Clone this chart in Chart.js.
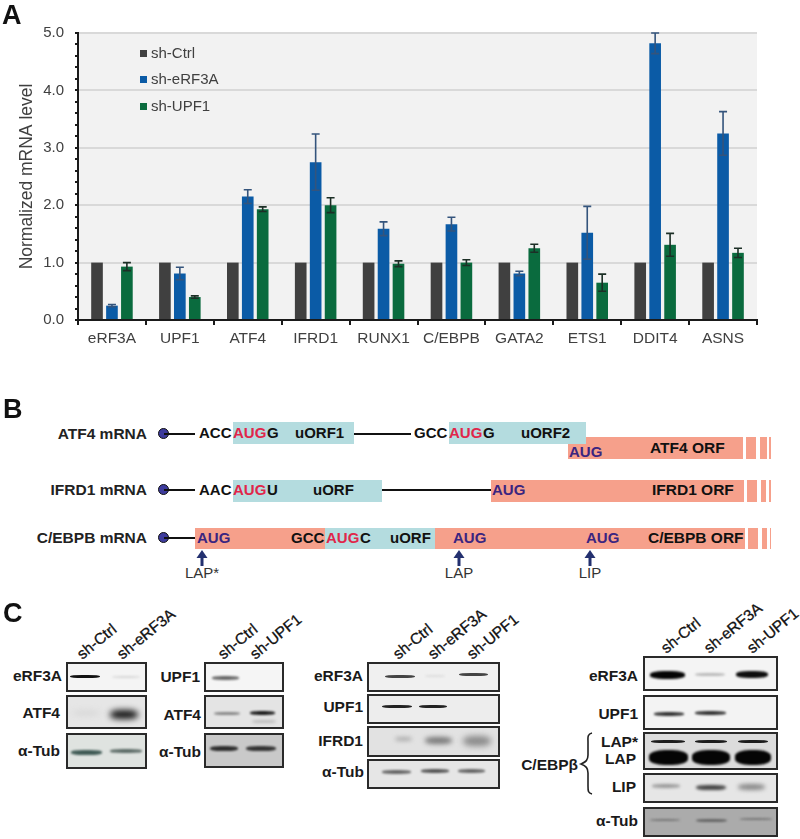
<!DOCTYPE html>
<html>
<head>
<meta charset="utf-8">
<script src="https://cdn.jsdelivr.net/npm/chart.js@4"></script>
<style>
  body { margin: 0; background: #fff; }
  #page { position: relative; width: 800px; height: 839px; overflow: hidden; font-family: "Liberation Sans", Arial, sans-serif; color: #222; }
  #page canvas { position: absolute; left: 0; top: 0; }
  .t { position: absolute; white-space: nowrap; line-height: 18px; height: 18px; }
  .b { font-weight: bold; }
  .box { position: absolute; }
  .blot { position: absolute; box-sizing: border-box; border: 2px solid #2a2a2a; overflow: hidden; }
  .band { position: absolute; border-radius: 40%; }
</style>
</head>
<body>
<div id="page">
  <canvas id="chart" width="800" height="350"></canvas>
</div>
<script>
// Panel A data
const categories = ['eRF3A', 'UPF1', 'ATF4', 'IFRD1', 'RUNX1', 'C/EBPB', 'GATA2', 'ETS1', 'DDIT4', 'ASNS'];
const shCtrl = [1, 1, 1, 1, 1, 1, 1, 1, 1, 1];
const shERF3A = [0.25, 0.81, 2.15, 2.75, 1.59, 1.67, 0.81, 1.52, 4.82, 3.25];
const shUPF1 = [0.93, 0.40, 1.93, 2.00, 0.98, 1.00, 1.25, 0.65, 1.31, 1.17];
const errERF3A = [0.02, 0.11, 0.12, 0.49, 0.12, 0.12, 0.04, 0.46, 0.18, 0.38];
const errUPF1 = [0.07, 0.02, 0.04, 0.13, 0.05, 0.05, 0.07, 0.15, 0.20, 0.08];
const seriesNames = ['sh-Ctrl', 'sh-eRF3A', 'sh-UPF1'];
const yTicks = [0, 1, 2, 3, 4, 5];

const COLORS = { ctrl: '#404040', erf3a: '#0b5ba6', upf1: '#0a6b3e' };

Chart.defaults.font.family = "'Liberation Sans', Arial, sans-serif";
Chart.defaults.color = '#404040';
Chart.defaults.animation = false;

// Grey plot background
const plotBackground = {
    id: 'plotBackground',
    beforeDraw(chart) {
        const a = chart.chartArea;
        chart.ctx.fillStyle = '#f2f2f2';
        chart.ctx.fillRect(a.left, a.top, a.right - a.left, a.bottom - a.top);
    }
};

// Error whiskers on top of the bars
const errorBars = {
    id: 'errorBars',
    afterDatasetsDraw(chart) {
        const ctx = chart.ctx;
        const y = chart.scales.y;
        chart.data.datasets.forEach((ds, i) => {
            if (!ds.errors) return;
            chart.getDatasetMeta(i).data.forEach((bar, k) => {
                const top = y.getPixelForValue(ds.data[k] + ds.errors[k]);
                const low = y.getPixelForValue(ds.data[k] - ds.errors[k]);
                ctx.strokeStyle = ds.whisker;
                ctx.lineWidth = 1.6;
                ctx.beginPath();
                ctx.moveTo(bar.x, low);
                ctx.lineTo(bar.x, top);
                ctx.moveTo(bar.x - 4, top);
                ctx.lineTo(bar.x + 4, top);
                ctx.moveTo(bar.x - 4, low);
                ctx.lineTo(bar.x + 4, low);
                ctx.stroke();
            });
        });
    }
};

new Chart(document.getElementById('chart'), {
    type: 'bar',
    plugins: [plotBackground, errorBars],
    data: {
        labels: categories,
        datasets: [
            { label: seriesNames[0], data: shCtrl, backgroundColor: COLORS.ctrl },
            { label: seriesNames[1], data: shERF3A, backgroundColor: COLORS.erf3a, errors: errERF3A, whisker: '#34547c' },
            { label: seriesNames[2], data: shUPF1, backgroundColor: COLORS.upf1, errors: errUPF1, whisker: '#1c2f26' }
        ]
    },
    options: {
        responsive: false,
        categoryPercentage: 0.66,
        barPercentage: 0.78,
        layout: { padding: { top: 33, right: 43 } },
        plugins: { legend: { display: false }, tooltip: { enabled: false } },
        scales: {
            x: {
                afterFit(scale) { scale.height = 30; },
                border: { color: '#1a1a1a', width: 2 },
                grid: { offset: true, drawOnChartArea: false, color: '#1a1a1a', tickLength: 5, lineWidth: 2 },
                ticks: { font: { size: 15.5 }, maxRotation: 0, autoSkip: false, padding: 4 }
            },
            y: {
                min: 0,
                max: 5,
                afterFit(scale) { scale.width = 78; },
                border: { color: '#1a1a1a', width: 2 },
                title: { display: true, text: 'Normalized mRNA level', font: { size: 17.5 }, padding: { top: 17, bottom: 0 } },
                grid: {
                    color: c => yTicks.includes(Math.round(c.tick.value * 10) / 10) && c.tick.value > 0 ? '#d9d9d9' : 'rgba(0,0,0,0)',
                    tickColor: '#1a1a1a',
                    tickLength: 3,
                    lineWidth: 2
                },
                ticks: {
                    stepSize: 0.2,
                    autoSkip: false,
                    font: { size: 15 },
                    padding: 11,
                    callback: v => yTicks.includes(Math.round(v * 10) / 10) ? v.toFixed(1) : ''
                }
            }
        }
    }
});

// ---- helpers for the html parts ----
const page = document.getElementById('page');

function text(x, yMid, str, opts) {
    opts = opts || {};
    const el = document.createElement('div');
    el.className = 't' + (opts.bold ? ' b' : '');
    el.style.left = x + 'px';
    el.style.top = (yMid - 9) + 'px';
    el.style.fontSize = (opts.size || 14) + 'px';
    if (opts.color) el.style.color = opts.color;
    if (opts.right) { el.style.left = 'auto'; el.style.right = (800 - x) + 'px'; }
    if (opts.center) el.style.transform = 'translateX(-50%)';
    el.innerHTML = str;
    page.appendChild(el);
    return el;
}

function box(x, y, w, h, color) {
    const el = document.createElement('div');
    el.className = 'box';
    el.style.cssText = `left:${x}px;top:${y}px;width:${w}px;height:${h}px;background:${color}`;
    page.appendChild(el);
}

// ---- legend of panel A ----
[COLORS.ctrl, COLORS.erf3a, COLORS.upf1].forEach((c, i) => {
    const y = [53, 79, 106][i];
    box(140, y - 3.5, 7, 7, c);
    text(151, y, seriesNames[i], { size: 15, color: '#404040' });
});

// ---- panel letters ----
text(2, 15, 'A', { size: 27, bold: true, color: '#111' });
text(3, 409, 'B', { size: 27, bold: true, color: '#111' });
text(3, 613, 'C', { size: 27, bold: true, color: '#111' });

// ---- panel B ----
const TEAL = '#b4dcdf', SALMON = '#f6a08b', RED = '#e0264a', PURPLE = '#3b2580';

function rail(x1, x2, y) { box(x1, y - 1, x2 - x1, 2, '#111'); }
function cap(y) {
    const el = document.createElement('div');
    el.className = 'box';
    el.style.cssText = `left:158px;top:${y - 6}px;width:9px;height:9px;border-radius:50%;background:#3d3b9c;border:1.5px solid #111`;
    page.appendChild(el);
}
function tail(y, h, segs) { segs.forEach(s => box(s[0], y, s[1] - s[0], h, SALMON)); }

function bText(x, y, str, color, size) { text(x, y, str, { size: size || 15, bold: true, color: color || '#111' }); }

// ATF4
text(147, 434, 'ATF4 mRNA', { size: 15.5, bold: true, right: true });
cap(434);
rail(164, 195, 434);
box(568, 437, 175, 22, SALMON);
tail(437, 22, [[746, 756], [760, 767], [769, 771]]);
box(233, 422, 121, 22, TEAL);
box(449, 422, 137, 22, TEAL);
rail(354, 411, 434);
bText(199, 433, 'ACC');
bText(233, 433, 'AUG', RED);
bText(267, 433, 'G');
bText(295, 433, 'uORF1');
bText(414, 433, 'GCC');
bText(449, 433, 'AUG', RED);
bText(483, 433, 'G');
bText(521, 433, 'uORF2');
bText(569, 452, 'AUG', PURPLE);
bText(650, 448, 'ATF4 ORF', '#111', 15.5);

// IFRD1
text(147, 490, 'IFRD1 mRNA', { size: 15.5, bold: true, right: true });
cap(490);
rail(164, 195, 490);
box(233, 480, 149, 22, TEAL);
rail(382, 491, 490);
box(491, 480, 253, 22, SALMON);
tail(480, 22, [[747, 757], [761, 766], [769, 771]]);
bText(199, 490, 'AAC');
bText(233, 490, 'AUG', RED);
bText(267, 490, 'U');
bText(313, 490, 'uORF');
bText(492, 490, 'AUG', PURPLE);
bText(652, 490, 'IFRD1 ORF', '#111', 15.5);

// C/EBPB
text(147, 538, 'C/EBPB mRNA', { size: 15.5, bold: true, right: true });
cap(538);
rail(164, 195, 538);
box(195, 528, 550, 21, SALMON);
box(325, 528, 110, 21, TEAL);
tail(528, 21, [[748, 758], [762, 767], [770, 771]]);
bText(197, 538, 'AUG', PURPLE);
bText(291, 538, 'GCC');
bText(326, 538, 'AUG', RED);
bText(360, 538, 'C');
bText(390, 538, 'uORF');
bText(453, 538, 'AUG', PURPLE);
bText(586, 538, 'AUG', PURPLE);
bText(648, 538, 'C/EBPB ORF', '#111', 15.5);

function arrow(x, name) {
    const svg = document.createElementNS('http://www.w3.org/2000/svg', 'svg');
    svg.setAttribute('width', 12);
    svg.setAttribute('height', 17);
    svg.style.cssText = `position:absolute;left:${x - 6}px;top:550px`;
    svg.innerHTML = '<path d="M6 0 L11.5 8 L7.5 8 L7.5 16 L4.5 16 L4.5 8 L0.5 8 Z" fill="#23306f"/>';
    page.appendChild(svg);
    text(x, 573, name, { size: 15, center: true, color: '#333' });
}
arrow(202, 'LAP*');
arrow(459, 'LAP');
arrow(590, 'LIP');

// ---- panel C ----
function blot(x, y, w, h, bg, bands) {
    const el = document.createElement('div');
    el.className = 'blot';
    el.style.cssText = `left:${x}px;top:${y}px;width:${w}px;height:${h}px;background:${bg}`;
    bands.forEach(b => {
        const d = document.createElement('div');
        d.className = 'band';
        const hb = b[2];
        d.style.cssText = `left:${b[0] - x - 2}px;width:${b[1] - b[0]}px;top:${b[3] - y - 2 - hb / 2}px;height:${hb}px;background:${b[4]};filter:blur(${b[5] || 1}px)`;
        el.appendChild(d);
    });
    page.appendChild(el);
}
function laneLabel(x, y, str) {
    const el = text(x, y, str, { size: 15.5, color: '#111' });
    el.style.transformOrigin = '0 50%';
    el.style.transform = 'rotate(-39deg)';
    el.style.webkitTextStroke = '0.3px #111';
}
function rowLabel(xRight, y, str) { text(xRight, y, str, { size: 15.5, bold: true, right: true, color: '#1a1a1a' }); }

// blot 1
laneLabel(79, 656, 'sh-Ctrl');
laneLabel(119, 656, 'sh-eRF3A');
rowLabel(62, 676, 'eRF3A');
rowLabel(60, 713, 'ATF4');
rowLabel(60, 751, '&alpha;-Tub');
blot(66, 662, 81, 30, '#f4f4f4', [[70, 100, 3, 676, '#111', 0.7], [112, 140, 2, 677, '#d8d8d8']]);
blot(66, 695, 81, 34, '#e6e6e6', [[72, 100, 4, 713, '#d2d2d2', 3], [110, 138, 9, 714, '#111', 3]]);
blot(66, 733, 81, 36, '#dfe3e0', [[71, 102, 5, 752, '#3f5a54', 1.2], [110, 142, 4, 751, '#5c6b66', 1.2]]);

// blot 2
laneLabel(220, 656, 'sh-Ctrl');
laneLabel(252, 656, 'sh-UPF1');
rowLabel(200, 677, 'UPF1');
rowLabel(201, 715, 'ATF4');
rowLabel(201, 752, '&alpha;-Tub');
blot(204, 662, 80, 30, '#f5f5f5', [[212, 239, 4, 678, '#666', 1.2]]);
blot(204, 695, 80, 34, '#e4e4e4', [[214, 240, 3, 713, '#888', 1], [250, 275, 4, 713, '#1a1a1a', 1], [252, 276, 3, 721, '#bbb', 1.5]]);
blot(204, 733, 80, 35, '#c9c9c9', [[210, 238, 5, 748, '#2d2d2d', 1.2], [246, 276, 5, 748, '#333', 1.2]]);

// blot 3
laneLabel(395, 656, 'sh-Ctrl');
laneLabel(430, 656, 'sh-eRF3A');
laneLabel(469, 656, 'sh-UPF1');
rowLabel(363, 676, 'eRF3A');
rowLabel(363, 707, 'UPF1');
rowLabel(363, 741, 'IFRD1');
rowLabel(364, 772, '&alpha;-Tub');
blot(367, 662, 133, 30, '#f0f0f0', [[385, 415, 3, 676, '#444', 0.7], [425, 445, 2, 676, '#ddd'], [459, 488, 3, 674, '#444', 0.7]]);
blot(367, 694, 133, 30, '#ededed', [[382, 412, 3, 706, '#222', 0.7], [419, 447, 3, 706, '#222', 0.7]]);
blot(367, 726, 133, 31, '#e2e2e2', [[395, 412, 4, 739, '#aaa', 2], [425, 452, 7, 740, '#777', 2.5], [463, 491, 10, 741, '#888', 3]]);
blot(367, 759, 133, 30, '#e6e6e6', [[382, 411, 4, 772, '#666', 1], [421, 449, 4, 771, '#555', 1], [458, 485, 4, 771, '#666', 1]]);

// blot 4
laneLabel(663, 650, 'sh-Ctrl');
laneLabel(706, 650, 'sh-eRF3A');
laneLabel(749, 650, 'sh-UPF1');
rowLabel(638, 676, 'eRF3A');
rowLabel(638, 714, 'UPF1');
rowLabel(638, 742, 'LAP*');
rowLabel(636, 759, 'LAP');
rowLabel(636, 787, 'LIP');
rowLabel(638, 821, '&alpha;-Tub');
rowLabel(578, 765, 'C/EBP&beta;');
blot(643, 656, 135, 35, '#f4f4f4', [[650, 685, 8, 675, '#050505', 1], [695, 725, 3, 674, '#bbb', 1], [736, 768, 7, 674, '#0d0d0d', 1]]);
blot(643, 695, 135, 35, '#f3f3f3', [[654, 684, 4, 714, '#333', 0.8], [695, 726, 4, 713, '#333', 0.8]]);
blot(643, 732, 135, 38, '#dcdcdc', [
    [651, 685, 3, 741, '#1c1c1c', 0.6], [695, 727, 3, 741, '#1c1c1c', 0.6], [738, 768, 3, 741, '#1c1c1c', 0.6],
    [649, 688, 15, 757, '#050505', 1.2], [692, 730, 15, 757, '#050505', 1.2], [735, 771, 15, 757, '#050505', 1.2]
]);
blot(643, 773, 135, 30, '#e6e6e6', [[652, 680, 4, 786, '#999', 1.5], [696, 726, 5, 787, '#444', 1.5], [738, 765, 6, 787, '#888', 2]]);
blot(643, 807, 135, 30, '#ababab', [[650, 680, 2, 820, '#777', 1], [696, 727, 3, 820, '#666', 1], [740, 772, 2, 819, '#777', 1]]);

// brace of the C/EBPb group
const brace = document.createElement('div');
brace.style.cssText = 'position:absolute;left:578px;top:728px;width:20px;height:70px';
brace.innerHTML = '<svg width="20" height="70"><path d="M14 5 C9 6 10 10 10 14 L10 27 C10 32 8 34 3 36 C8 38 10 40 10 45 L10 58 C10 63 10 65 14 66" fill="none" stroke="#222" stroke-width="1.6"/></svg>';
page.appendChild(brace);
</script>
</body>
</html>
